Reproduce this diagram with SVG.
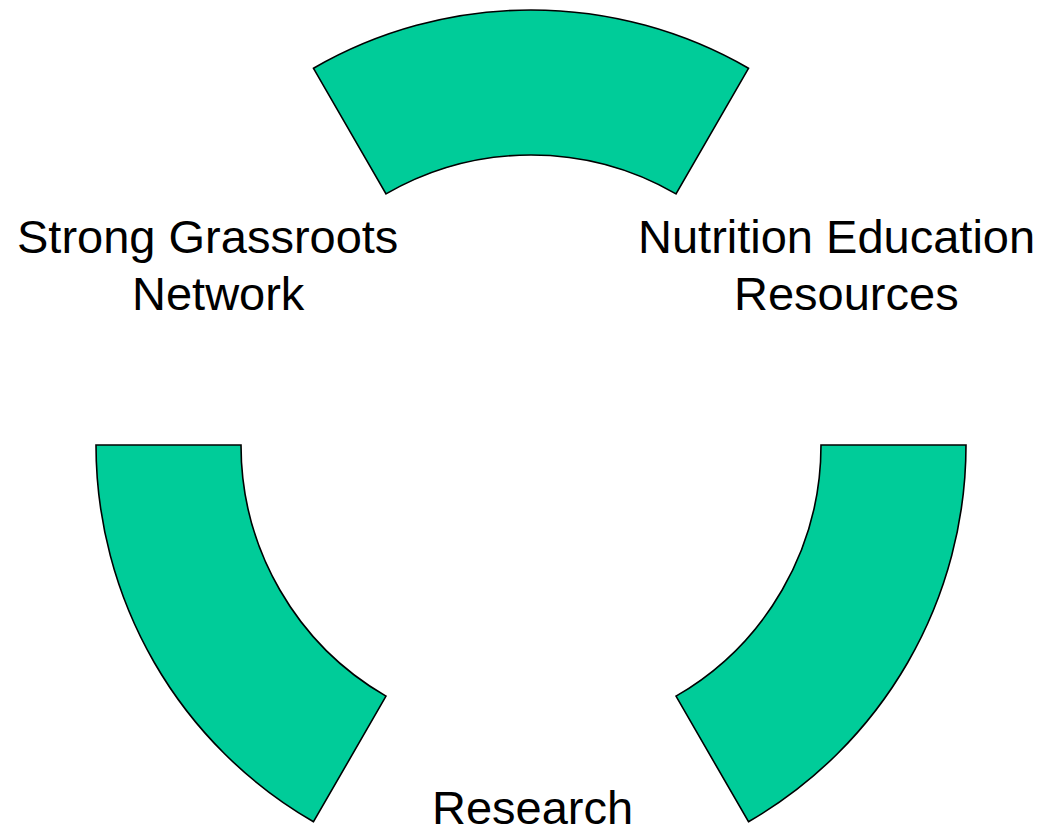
<svg xmlns="http://www.w3.org/2000/svg" width="1048" height="829" viewBox="0 0 1048 829">
  <style>
    .seg { fill: #00cc99; stroke: #000000; stroke-width: 1.6; stroke-linejoin: miter; }
    .lbl { font-family: "Liberation Sans", Arial, sans-serif; font-size: 47px; fill: #000000; }
  </style>
  <rect width="1048" height="829" fill="#ffffff"/>
  <!-- ring segments: centre (531,445), outer radius 435, inner radius 290 -->
  <g id="segments">
    <g id="seg-top">
      <path class="seg" d="M313.5,68.28 A435,435 0 0 1 748.5,68.28 L676,193.85 A290,290 0 0 0 386,193.85 Z"/>
    </g>
    <g id="seg-left">
      <path class="seg" d="M96,445 A435,435 0 0 0 313.5,821.72 L386,696.15 A290,290 0 0 1 241,445 Z"/>
    </g>
    <g id="seg-right">
      <path class="seg" d="M966,445 A435,435 0 0 1 748.5,821.72 L676,696.15 A290,290 0 0 0 821,445 Z"/>
    </g>
  </g>
  <g id="connectors"/>
  <g id="label-grassroots">
    <text class="lbl" x="17" y="253">Strong Grassroots</text>
    <text class="lbl" x="132" y="310">Network</text>
  </g>
  <g id="label-nutrition">
    <text class="lbl" x="638" y="253">Nutrition Education</text>
    <text class="lbl" x="734" y="310">Resources</text>
  </g>
  <g id="label-research">
    <text class="lbl" x="432" y="824">Research</text>
  </g>
</svg>
